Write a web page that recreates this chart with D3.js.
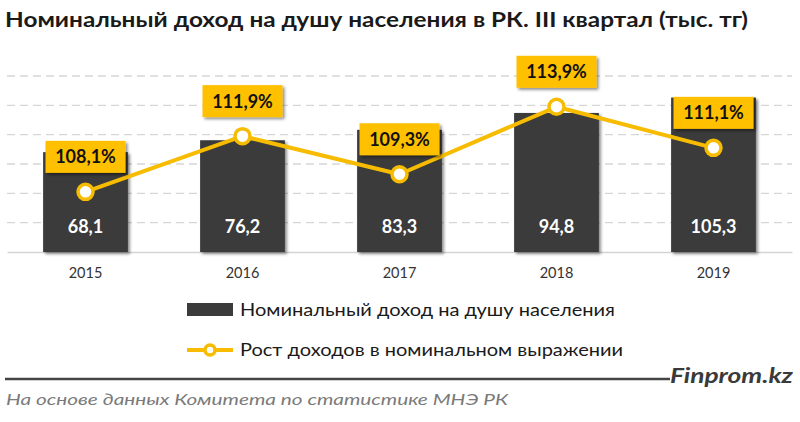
<!DOCTYPE html>
<html><head><meta charset="utf-8">
<script src="https://cdn.jsdelivr.net/npm/d3@7"></script>
<style>body{margin:0;background:#fff}svg{display:block}</style>
</head><body>
<svg id="c" width="800" height="422"></svg>
<script>
const years = ["2015","2016","2017","2018","2019"];
const income = [68.1, 76.2, 83.3, 94.8, 105.3];
const growth = [108.1, 111.9, 109.3, 113.9, 111.1];
const incomeLabels = ["68,1","76,2","83,3","94,8","105,3"];
const growthLabels = ["108,1%","111,9%","109,3%","113,9%","111,1%"];
const gridTicks = [20, 40, 60, 80, 100, 120];
const legendNames = ["Номинальный доход на душу населения", "Рост доходов в номинальном выражении"];

const svg = d3.select("#c");
const F = "Lato, 'Open Sans', sans-serif";
const gold = "#F7BC00", boxGold = "#FFC000", dark = "#3B3B3B";

const defs = svg.append("defs");
const f = defs.append("filter").attr("id","sh").attr("x","-20%").attr("y","-20%").attr("width","150%").attr("height","150%");
f.append("feDropShadow").attr("dx",2).attr("dy",2).attr("stdDeviation",1.6).attr("flood-color","#000").attr("flood-opacity",0.45);

const x = d3.scaleBand().domain(years).range([7, 792]).paddingInner(0.46).paddingOuter(0.23);
const y = d3.scaleLinear().domain([0, 120]).range([252, 76]);
const y2 = d3.scaleLinear().domain([104, 116]).range([252, 76]);

// title
svg.append("text").attr("x",5).attr("y",27).attr("font-family",F).attr("font-weight",700)
  .attr("font-size",21).attr("fill","#1a1a1a").attr("textLength",743).attr("lengthAdjust","spacingAndGlyphs")
  .text("Номинальный доход на душу населения в РК. III квартал (тыс. тг)");

// grid
svg.append("g").selectAll("line").data(gridTicks).join("line")
  .attr("x1",7).attr("x2",792).attr("y1",d=>y(d)).attr("y2",d=>y(d))
  .attr("stroke","#d6d6d6").attr("stroke-width",1.3).attr("stroke-dasharray","8,5");

// baseline axis
const xAxis = svg.append("g").attr("transform","translate(0,252)")
  .call(d3.axisBottom(x).tickSize(0).tickPadding(16));
xAxis.select(".domain").attr("stroke","#d4d4d4").attr("stroke-width",1.5);
xAxis.selectAll("text").attr("font-family",F).attr("font-size",14.5).attr("fill","#333");

// bars
svg.append("g").selectAll("rect").data(income).join("rect")
  .attr("x",(d,i)=>x(years[i])).attr("width",x.bandwidth())
  .attr("y",d=>y(d)).attr("height",d=>y(0)-y(d))
  .attr("fill",dark).attr("filter","url(#sh)");

svg.append("g").selectAll("text").data(incomeLabels).join("text")
  .attr("x",(d,i)=>x(years[i])+x.bandwidth()/2).attr("y",233)
  .attr("text-anchor","middle").attr("font-family",F).attr("font-weight",700)
  .attr("font-size",18).attr("fill","#fff").text(d=>d);

// line
const cx = i => x(years[i]) + x.bandwidth()/2;
svg.append("path").datum(growth)
  .attr("d", d3.line().x((d,i)=>cx(i)).y(d=>y2(d)))
  .attr("fill","none").attr("stroke",gold).attr("stroke-width",4).attr("stroke-linejoin","round");

svg.append("g").selectAll("circle").data(growth).join("circle")
  .attr("cx",(d,i)=>cx(i)).attr("cy",d=>y2(d)).attr("r",7.5)
  .attr("fill","#fff").attr("stroke",gold).attr("stroke-width",3.5);

// growth labels
const lg = svg.append("g").selectAll("g").data(growth).join("g")
  .attr("transform",(d,i)=>`translate(${cx(i)},${y2(d)-35})`);
lg.append("rect").attr("x",-40).attr("y",-16).attr("width",80).attr("height",32)
  .attr("fill",boxGold).attr("filter","url(#sh)");
lg.append("text").attr("y",6.5).attr("text-anchor","middle").attr("font-family",F)
  .attr("font-weight",700).attr("font-size",18).attr("fill","#111")
  .text((d,i)=>growthLabels[i]);

// legend
const leg = svg.append("g");
leg.append("rect").attr("x",187).attr("y",303).attr("width",46).attr("height",13).attr("fill",dark);
leg.append("line").attr("x1",187).attr("x2",233).attr("y1",350).attr("y2",350).attr("stroke",gold).attr("stroke-width",4);
leg.append("circle").attr("cx",210).attr("cy",350).attr("r",5).attr("fill","#fff").attr("stroke",gold).attr("stroke-width",3.5);
leg.selectAll("text").data(legendNames).join("text")
  .attr("x",240).attr("y",(d,i)=>i===0?316:356)
  .attr("font-family",F).attr("font-size",18).attr("fill","#1a1a1a")
  .attr("textLength",(d,i)=>i===0?375:383).attr("lengthAdjust","spacingAndGlyphs")
  .text(d=>d);

// footer
svg.append("line").attr("x1",5).attr("x2",670).attr("y1",379).attr("y2",379).attr("stroke","#444").attr("stroke-width",2.5);
svg.append("text").attr("x",670).attr("y",383).attr("font-family",F).attr("font-weight",700).attr("font-style","italic")
  .attr("font-size",21).attr("fill","#3a3a3a").attr("textLength",123).attr("lengthAdjust","spacingAndGlyphs").text("Finprom.kz");
svg.append("text").attr("x",6).attr("y",405).attr("font-family",F).attr("font-style","italic")
  .attr("font-size",16).attr("fill","#7a7a7a").attr("textLength",502).attr("lengthAdjust","spacingAndGlyphs")
  .text("На основе данных  Комитета по статистике МНЭ РК");
</script>
</body></html>
